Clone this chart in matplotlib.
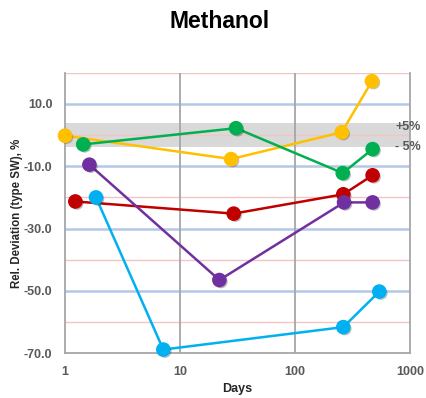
import matplotlib
matplotlib.use("Agg")
import matplotlib.pyplot as plt
import matplotlib.patheffects as pe

plt.rcParams['font.family'] = ['Liberation Sans', 'DejaVu Sans']

title = "Methanol"
x_label = "Days"
y_label = "Rel. Deviation (type SW), %"

yellow_days = [1.0, 27.8, 255, 467]
yellow_vals = [-0.2, -7.7, 0.9, 17.3]
green_days = [1.44, 30.7, 260, 473]
green_vals = [-3.0, 2.2, -12.2, -4.5]
red_days = [1.23, 29.3, 263, 473]
red_vals = [-21.3, -25.2, -19.0, -12.9]
purple_days = [1.63, 22.0, 267, 473]
purple_vals = [-9.5, -46.5, -21.6, -21.6]
cyan_days = [1.86, 7.16, 263, 541]
cyan_vals = [-20.0, -68.8, -61.6, -50.2]

series = [
    (yellow_days, yellow_vals, "#FFC000"),
    (green_days, green_vals, "#00B050"),
    (red_days, red_vals, "#C00000"),
    (purple_days, purple_vals, "#7030A0"),
    (cyan_days, cyan_vals, "#00B0F0"),
]

y_ticks = [-70, -50, -30, -10, 10]
y_tick_labels = ["-70.0", "-50.0", "-30.0", "-10.0", "10.0"]
x_ticks = [1, 10, 100, 1000]
x_tick_labels = ["1", "10", "100", "1000"]
blue_lines = [10, -10, -30, -50]
red_lines = [20, 0, -20, -40, -60]
band_low, band_high = -3.7, 3.8
band_labels = ["+5%", "- 5%"]

fig = plt.figure(figsize=(4.26, 3.98), dpi=100)
ax = fig.add_axes([65/426, 1-353.3/398, (410-65)/426, (353.3-72.7)/398])
ax.set_xscale('log')
ax.set_xlim(1, 1000)
ax.set_ylim(-70, 20)

ax.axhspan(band_low, band_high, color="#D9D9D9", zorder=0.5, lw=0)
for v in blue_lines:
    ax.axhline(v, color="#B4C7E7", lw=1.8, zorder=1)
for v in red_lines:
    ax.axhline(v, color="#F2C4C4", lw=1.0, zorder=1)
for v in [10, 100]:
    ax.axvline(v, color="#A6A6A6", lw=1.3, zorder=1)

for s in ['left', 'bottom', 'right']:
    ax.spines[s].set_color("#A6A6A6")
    ax.spines[s].set_linewidth(1.3)
ax.spines['top'].set_visible(False)

for d, v, c in series:
    ax.plot(d, v, color=c, lw=1.8, zorder=3, solid_capstyle='round', clip_on=False)
    ax.plot(d, v, ls='none', marker='o', ms=9.5, color=c, mec=c, zorder=4, clip_on=False,
            path_effects=[pe.SimplePatchShadow(offset=(1.2, -1.2), alpha=0.3), pe.Normal()])

ax.set_yticks(y_ticks)
ax.set_yticklabels(y_tick_labels)
ax.set_xticks(x_ticks)
ax.set_xticklabels(x_tick_labels)
ax.minorticks_off()
ax.tick_params(length=0, pad=9, labelsize=9, labelcolor="#595959")
for lab in ax.get_xticklabels() + ax.get_yticklabels():
    lab.set_fontweight('bold')

fig.text(17/426, 1-213/398, y_label, rotation=90, ha='center', va='center',
         fontsize=8.3, fontweight='bold', color="#262626")
fig.text(237/426, 1-389/398, x_label, ha='center', va='center',
         fontsize=9, fontweight='bold', color="#262626")
fig.text(220/426, 1-21/398, title, ha='center', va='center',
         fontsize=16.5, fontweight='bold', color="#000000")
fig.text(395/426, 1-126.7/398, band_labels[0], ha='left', va='center',
         fontsize=9, fontweight='bold', color="#595959")
fig.text(395/426, 1-147/398, band_labels[1], ha='left', va='center',
         fontsize=9, fontweight='bold', color="#595959")

fig.savefig("out.png", dpi=100)
